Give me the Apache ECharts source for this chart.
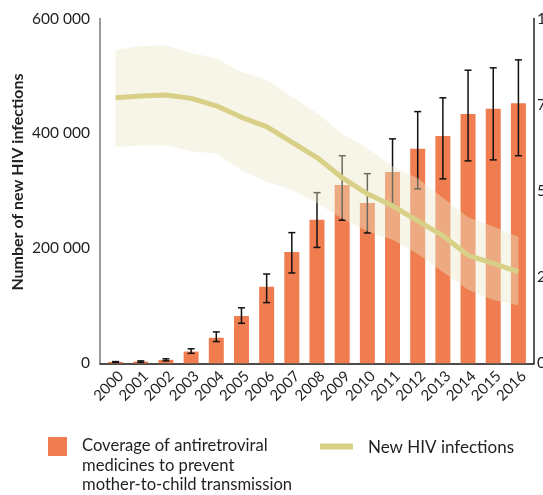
<!DOCTYPE html>
<html>
<head>
<meta charset="utf-8">
<script src="https://cdn.jsdelivr.net/npm/echarts@6/dist/echarts.min.js"></script>
<style>html,body{margin:0;padding:0;background:#fff}#chart{width:543px;height:495px}</style>
</head>
<body>
<div id="chart"></div>
<script>
const years = ['2000','2001','2002','2003','2004','2005','2006','2007','2008','2009','2010','2011','2012','2013','2014','2015','2016'];
// Coverage of ARVs for PMTCT (%), with uncertainty bounds
const coverage     = [0.4, 0.5, 1.0, 3.4, 7.4, 13.7, 22.2, 32.3, 41.6, 51.7, 46.5, 55.5, 62.2, 65.9, 72.3, 73.8, 75.4];
const coverageLow  = [0.3, 0.3, 0.7, 2.9, 6.3, 11.6, 17.6, 26.2, 33.6, 41.5, 37.8, 45.9, 50.6, 53.5, 58.7, 59.0, 60.2];
const coverageHigh = [0.5, 0.7, 1.3, 4.2, 9.1, 16.1, 25.9, 37.9, 49.5, 60.2, 55.0, 65.1, 73.0, 77.0, 85.0, 85.7, 88.0];
// New HIV infections, with uncertainty bounds
const infections     = [462000, 465000, 467000, 461000, 448000, 428000, 412000, 385000, 358000, 323000, 295000, 274000, 248000, 222000, 188000, 174000, 159000];
const infectionsLow  = [376000, 379000, 379000, 369000, 365000, 336000, 316000, 302000, 279000, 252000, 230000, 215000, 190000, 159000, 128000, 110000, 101000];
const infectionsHigh = [545000, 552000, 553000, 540000, 531000, 507000, 493000, 464000, 435000, 400000, 374000, 343000, 322000, 288000, 254000, 238000, 220000];
const leftTicks = [0, 200000, 400000, 600000];
const rightTicks = [0, 25, 50, 75, 100];
const barName = 'Coverage of antiretroviral medicines to prevent mother-to-child transmission';
const lineName = 'New HIV infections';

const FONT = 'Lato';
const TXT = '#231f20';
const ORANGE = '#ef7d4f';
const KHAKI = '#d8d086';

const chart = echarts.init(document.getElementById('chart'), null, {renderer: 'canvas'});
const fmtSpace = v => String(v).replace(/\B(?=(\d{3})+(?!\d))/g, ' ');

const option = {
  animation: false,
  backgroundColor: '#fff',
  grid: [
    {left: 100, right: 9, top: 18.5, bottom: 131.7, containLabel: false, outerBoundsMode: 'none'},
    {left: 103, right: 12, top: 18.5, bottom: 131.7, containLabel: false, outerBoundsMode: 'none'}
  ],
  xAxis: [
    {gridIndex: 0, type: 'value', min: 0, max: 1, axisLine: {show: true, onZero: false, lineStyle: {color: '#111', width: 1.5}},
     axisTick: {show: false}, axisLabel: {show: false}, splitLine: {show: false}},
    {gridIndex: 1, type: 'category', data: years, boundaryGap: true,
     axisLine: {show: false}, axisTick: {show: false}, splitLine: {show: false},
     axisLabel: {rotate: 45, margin: 5, interval: 0, verticalAlign: 'top', color: TXT, fontFamily: FONT, fontSize: 15}}
  ],
  yAxis: [
    {gridIndex: 0, type: 'value', position: 'left', min: 0, max: 600000, interval: 200000,
     axisLine: {show: true, lineStyle: {color: '#7a7a7a', width: 1.5}}, axisTick: {show: false}, splitLine: {show: false},
     axisLabel: {margin: 10, color: TXT, fontFamily: FONT, fontSize: 15.5, formatter: v => leftTicks.includes(v) ? fmtSpace(v) : ''}},
    {gridIndex: 0, type: 'value', position: 'right', min: 0, max: 100, interval: 25,
     axisLine: {show: true, lineStyle: {color: '#222', width: 1.5}}, axisTick: {show: false}, splitLine: {show: false},
     axisLabel: {margin: 3, color: TXT, fontFamily: FONT, fontSize: 15.5, formatter: v => rightTicks.includes(v) ? String(v) : ''}},
    {gridIndex: 1, type: 'value', position: 'left', min: 0, max: 600000, show: false, splitLine: {show: false}},
    {gridIndex: 1, type: 'value', position: 'right', min: 0, max: 100, show: false, splitLine: {show: false}}
  ],
  series: [
    {name: barName, type: 'bar', xAxisIndex: 1, yAxisIndex: 3, data: coverage, barWidth: 15,
     itemStyle: {color: ORANGE}, z: 1},
    {name: 'coverage range', type: 'custom', xAxisIndex: 1, yAxisIndex: 3, z: 2,
     data: years.map((y, i) => [i, coverageLow[i], coverageHigh[i]]),
     encode: {x: 0, y: [1, 2]},
     renderItem: function (params, api) {
       const x = api.value(0);
       const lo = api.coord([x, api.value(1)]);
       const hi = api.coord([x, api.value(2)]);
       const hw = 3.5;
       const st = {stroke: '#111', lineWidth: 1.5};
       return {type: 'group', children: [
         {type: 'line', shape: {x1: lo[0], y1: lo[1], x2: hi[0], y2: hi[1]}, style: st},
         {type: 'line', shape: {x1: lo[0] - hw, y1: lo[1], x2: lo[0] + hw, y2: lo[1]}, style: st},
         {type: 'line', shape: {x1: hi[0] - hw, y1: hi[1], x2: hi[0] + hw, y2: hi[1]}, style: st}
       ]};
     }},
    {name: 'band base', type: 'line', xAxisIndex: 1, yAxisIndex: 2, stack: 'band', data: infectionsLow,
     symbol: 'none', lineStyle: {width: 0, opacity: 0}, silent: true, z: 3},
    {name: 'band', type: 'line', xAxisIndex: 1, yAxisIndex: 2, stack: 'band',
     data: infectionsHigh.map((h, i) => h - infectionsLow[i]),
     symbol: 'none', lineStyle: {width: 0, opacity: 0}, areaStyle: {color: 'rgba(233,230,200,0.42)', opacity: 1}, silent: true, z: 3},
    {name: lineName, type: 'line', xAxisIndex: 1, yAxisIndex: 2, data: infections, symbol: 'none',
     lineStyle: {color: KHAKI, width: 5, join: 'round'}, z: 4}
  ],
  graphic: [
    {type: 'text', x: 17.5, y: 182, rotation: Math.PI / 2,
     style: {text: 'Number of new HIV infections', font: 'bold 16px ' + FONT, fill: TXT, align: 'center', verticalAlign: 'middle'}},
    {type: 'rect', shape: {x: 48, y: 437, width: 19, height: 19}, style: {fill: ORANGE}},
    {type: 'text', x: 82, y: 436,
     style: {text: 'Coverage of antiretroviral\nmedicines to prevent\nmother-to-child transmission', font: '16.6px ' + FONT, fill: TXT, lineHeight: 19.5, verticalAlign: 'top'}},
    {type: 'line', shape: {x1: 320, y1: 446.5, x2: 353, y2: 446.5}, style: {stroke: KHAKI, lineWidth: 6}},
    {type: 'text', x: 368, y: 447.5,
     style: {text: lineName, font: '17px ' + FONT, fill: TXT, verticalAlign: 'middle'}}
  ]
};
chart.setOption(option);
</script>
</body>
</html>
